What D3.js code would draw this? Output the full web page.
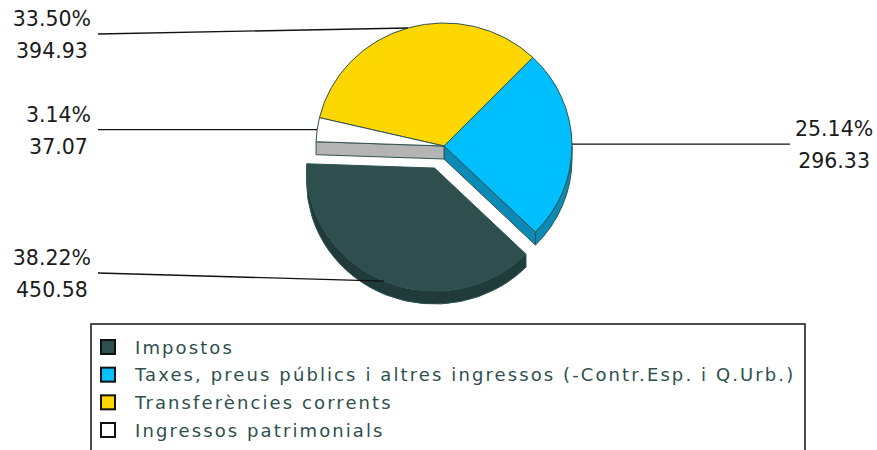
<!DOCTYPE html>
<html><head><meta charset="utf-8">
<script src="https://cdn.jsdelivr.net/npm/d3@7"></script>
<style>body{margin:0;background:#fff} svg{display:block}</style>
</head><body><svg id="c" width="877" height="450"></svg>
<script>
// ---- data ----
const categories = ["Impostos", "Taxes, preus públics i altres ingressos (-Contr.Esp. i Q.Urb.)", "Transferències corrents", "Ingressos patrimonials"];
const values = [450.58, 296.33, 394.93, 37.07];
const percentLabels = ["38.22%", "25.14%", "33.50%", "3.14%"];
const valueLabels = ["450.58", "296.33", "394.93", "37.07"];
const topColors = ["#2f4f4f", "#00bfff", "#ffd700", "#ffffff"];
const sideColors = ["#213b3b", "#0a8ab4", "#c8a800", "#b4b4b4"];
const explodedIndex = 0;

// ---- layout ----
const W = 877, H = 450;
const cx = 444, cy = 146, rx = 128, ry = 123, depth = 13, explode = 24;
const theta0 = 178 * Math.PI / 180;
const outline = "#2f5252";
const svg = d3.select("#c");

const arcs = d3.pie().sort(null).value(d => d)(values).map((a, i) => {
  const t1 = theta0 + a.startAngle, t2 = theta0 + a.endAngle, tm = (t1 + t2) / 2;
  const ex = i === explodedIndex ? explode : 0;
  return {i, t1, t2, tm, ox: ex * Math.cos(tm), oy: -ex * Math.sin(tm)};
});

function P(d, t, dz = 0) { return [cx + d.ox + rx * Math.cos(t), cy + d.oy - ry * Math.sin(t) + dz]; }
function C(d, dz = 0) { return [cx + d.ox, cy + d.oy + dz]; }
function topPath(d) {
  const c = C(d), a = P(d, d.t1), b = P(d, d.t2);
  const large = (d.t2 - d.t1) > Math.PI ? 1 : 0;
  return `M${c}L${a}A${rx},${ry} 0 ${large} 0 ${b}Z`;
}
function outerWall(d) {
  const lo = Math.max(d.t1, Math.PI), hi = Math.min(d.t2, 2 * Math.PI);
  if (hi <= lo) return null;
  const a = P(d, lo), b = P(d, hi), a2 = P(d, lo, depth), b2 = P(d, hi, depth);
  return `M${a}A${rx},${ry} 0 0 0 ${b}L${b2}A${rx},${ry} 0 0 1 ${a2}Z`;
}
function radialWall(d, t) {
  const c = C(d), p = P(d, t), p2 = P(d, t, depth), c2 = C(d, depth);
  return `M${c}L${p}L${p2}L${c2}Z`;
}

const n = arcs.length;
const gWalls = svg.append("g"), gTops = svg.append("g");
const order = arcs.filter(d => d.i !== explodedIndex).concat(arcs.filter(d => d.i === explodedIndex));
order.forEach(d => {
  const prevEx = ((d.i - 1 + n) % n) === explodedIndex, nextEx = ((d.i + 1) % n) === explodedIndex;
  const isEx = d.i === explodedIndex;
  const walls = [];
  if ((isEx || prevEx) && Math.cos(d.t1) > 0) walls.push(radialWall(d, d.t1));
  if ((isEx || nextEx) && Math.cos(d.t2) < 0) walls.push(radialWall(d, d.t2));
  const ow = outerWall(d); if (ow) walls.push(ow);
  walls.forEach(w => gWalls.append("path").attr("d", w).attr("fill", sideColors[d.i])
    .attr("stroke", outline).attr("stroke-width", 1).attr("stroke-linejoin", "round"));
});
order.forEach(d => {
  gTops.append("path").attr("d", topPath(d)).attr("fill", topColors[d.i])
    .attr("stroke", outline).attr("stroke-width", 1).attr("stroke-linejoin", "round");
});

// ---- labels ----
const leftX = 98, rightX = 790, leftEdge = 91, rightEdge = 795;
const yClamp = [34, 273];
const gLab = svg.append("g");
arcs.forEach(d => {
  const e = P(d, d.tm);
  const ly = Math.max(yClamp[0], Math.min(yClamp[1], e[1]));
  const left = Math.cos(d.tm) < 0;
  gLab.append("path").attr("d", left ? `M${leftX},${ly}L${e}` : `M${e}L${rightX},${ly}`)
    .attr("fill", "none").attr("stroke", "#111").attr("stroke-width", 1.3);
  const t1 = gLab.append("text").attr("y", ly - 8).text(percentLabels[d.i]);
  const t2 = gLab.append("text").attr("y", ly + 24).text(valueLabels[d.i]);
  [t1, t2].forEach(t => t.attr("font-family", "DejaVu Sans").attr("font-size", 20.5)
    .attr("fill", "#1a1a1a").attr("text-anchor", "middle"));
  const w = Math.max(t1.node().getComputedTextLength(), t2.node().getComputedTextLength());
  const mx = left ? leftEdge - w / 2 : rightEdge + w / 2;
  t1.attr("x", mx); t2.attr("x", mx);
});

// ---- legend ----
const lg = svg.append("g");
lg.append("rect").attr("x", 91).attr("y", 324).attr("width", 714).attr("height", 140)
  .attr("fill", "#fff").attr("stroke", "#222").attr("stroke-width", 1.6);
const rowY = d3.scaleLinear().domain([0, 3]).range([347, 430]);
categories.forEach((c, i) => {
  const y = rowY(i);
  lg.append("rect").attr("x", 101).attr("y", y - 7).attr("width", 14).attr("height", 14)
    .attr("fill", topColors[i]).attr("stroke", "#111").attr("stroke-width", 2);
  lg.append("text").attr("x", 135).attr("y", y + 6.6).text(c)
    .attr("font-family", "DejaVu Sans").attr("font-size", 18).attr("letter-spacing", 2.1)
    .attr("fill", "#2f4f4f");
});
</script></body></html>
